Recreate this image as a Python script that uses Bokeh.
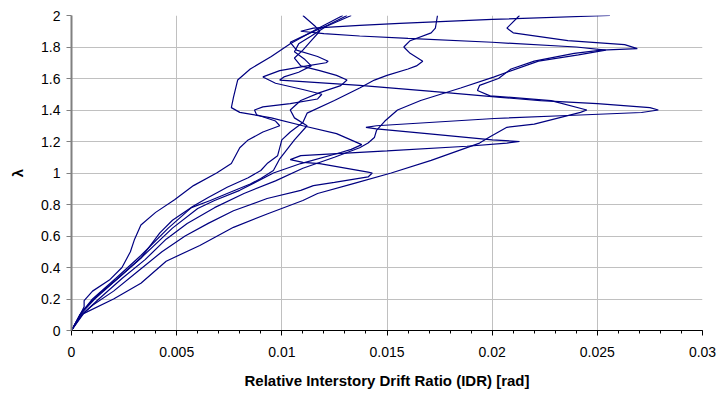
from bokeh.plotting import figure
from bokeh.models import FixedTicker, Range1d, NumeralTickFormatter
from bokeh.embed import file_html
from bokeh.resources import INLINE

# ---- data: IDR [rad] vs lambda for each record ----
c1_x = [0, 0.0003, 0.0006, 0.0006, 0.0010, 0.0018, 0.0024, 0.0028, 0.0030, 0.0033, 0.0040, 0.0049, 0.0058,
        0.0069, 0.0076, 0.0080, 0.0084, 0.0091, 0.0099, 0.0097, 0.0088, 0.0087, 0.0091, 0.0104, 0.0117,
        0.0119, 0.0110, 0.0097, 0.0091, 0.0099, 0.0112, 0.0121, 0.0122, 0.0117, 0.0107, 0.0104, 0.0112,
        0.0122, 0.0131]
c1_lam = [0, 0.07, 0.15, 0.19, 0.25, 0.32, 0.40, 0.50, 0.58, 0.67, 0.75, 0.83, 0.92,
          1.0, 1.06, 1.16, 1.21, 1.26, 1.30, 1.33, 1.37, 1.40, 1.42, 1.44, 1.47,
          1.50, 1.53, 1.57, 1.61, 1.65, 1.68, 1.70, 1.71, 1.74, 1.78, 1.83, 1.88,
          1.94, 2.0]

c2_x = [0, 0.00057, 0.0020, 0.0033, 0.0045, 0.0061, 0.0077, 0.0093, 0.0110, 0.0117, 0.0134, 0.0152, 0.0171,
        0.0194, 0.0199, 0.0207, 0.0220, 0.0242, 0.0245, 0.0228, 0.0199, 0.0193, 0.0194, 0.0203, 0.0209,
        0.0220, 0.0239, 0.0252, 0.0269, 0.0263, 0.0236, 0.0210, 0.0207, 0.0213]
c2_lam = [0, 0.107, 0.20, 0.30, 0.44, 0.54, 0.655, 0.74, 0.825, 0.87, 0.933, 1.0, 1.08,
          1.19, 1.23, 1.29, 1.31, 1.385, 1.40, 1.46, 1.49, 1.524, 1.556, 1.60, 1.66,
          1.71, 1.76, 1.78, 1.79, 1.815, 1.84, 1.89, 1.92, 2.0]

c3_x = [0, 0.0004, 0.0010, 0.0020, 0.0031, 0.0043, 0.0054, 0.0065, 0.0077, 0.0093, 0.0109, 0.0115, 0.0125,
        0.0141, 0.0143, 0.0141, 0.0118, 0.0110, 0.0104, 0.0109, 0.0150, 0.0188, 0.0207, 0.0213, 0.0200,
        0.0169, 0.0145, 0.0140, 0.0145, 0.0201, 0.0236, 0.0271, 0.0279, 0.0275, 0.0250, 0.0223, 0.0204,
        0.0170, 0.0137, 0.0110, 0.0099, 0.0101, 0.0108, 0.0114, 0.0111, 0.0106, 0.0108, 0.0114, 0.0121,
        0.0133]
c3_lam = [0, 0.09, 0.16, 0.25, 0.37, 0.50, 0.60, 0.68, 0.76, 0.838, 0.89, 0.92, 0.94,
          0.975, 1.0, 1.005, 1.06, 1.067, 1.085, 1.11, 1.14, 1.17, 1.19, 1.20, 1.21,
          1.25, 1.28, 1.29, 1.30, 1.346, 1.365, 1.384, 1.40, 1.415, 1.44, 1.46, 1.48,
          1.52, 1.556, 1.58, 1.59, 1.61, 1.64, 1.68, 1.72, 1.77, 1.82, 1.87, 1.93,
          2.0]

c4_x = [0, 0.0004, 0.0011, 0.0022, 0.0033, 0.0048, 0.0060, 0.0068, 0.0080, 0.0096, 0.0109, 0.0128, 0.0133,
        0.0138, 0.0126, 0.0110, 0.0095, 0.0080, 0.0076, 0.0077, 0.0079, 0.0085, 0.0095, 0.0104, 0.0116,
        0.0129]
c4_lam = [0, 0.10, 0.20, 0.33, 0.46, 0.65, 0.775, 0.825, 0.89, 1.0, 1.06, 1.13, 1.15,
          1.18, 1.25, 1.30, 1.35, 1.385, 1.415, 1.48, 1.59, 1.66, 1.74, 1.82, 1.91,
          2.0]

c5_x = [0, 0.0004, 0.0010, 0.0021, 0.0033, 0.0046, 0.0057, 0.0066, 0.0074, 0.0085, 0.0090, 0.0096, 0.0099,
        0.0106, 0.0112, 0.0106, 0.0104, 0.0109, 0.0118, 0.0128, 0.0131, 0.0126, 0.0118, 0.0109, 0.0106,
        0.0110, 0.0114, 0.0118, 0.0116, 0.0110]
c5_lam = [0, 0.10, 0.20, 0.33, 0.476, 0.65, 0.78, 0.825, 0.87, 0.93, 0.965, 1.016, 1.09,
          1.21, 1.30, 1.35, 1.40, 1.46, 1.51, 1.555, 1.59, 1.62, 1.65, 1.68, 1.73,
          1.78, 1.84, 1.90, 1.93, 2.0]

c6_x = [0, 0.0005, 0.0012, 0.0022, 0.0033, 0.0042, 0.0048, 0.0058, 0.0065, 0.0074, 0.0084, 0.0090, 0.0093,
        0.0098, 0.0100, 0.0104, 0.0110, 0.0112, 0.0125, 0.0137, 0.0144, 0.0150, 0.0160, 0.0164, 0.0167,
        0.0161, 0.0158, 0.0161, 0.0171, 0.0173, 0.0174]
c6_lam = [0, 0.12, 0.22, 0.33, 0.46, 0.62, 0.70, 0.79, 0.845, 0.91, 0.97, 1.016, 1.06,
          1.11, 1.21, 1.26, 1.32, 1.38, 1.46, 1.54, 1.59, 1.62, 1.66, 1.68, 1.71,
          1.76, 1.80, 1.84, 1.89, 1.92, 2.0]

c7_x = [0, 0.0005, 0.0013, 0.0024, 0.0035, 0.0045, 0.0055, 0.0068, 0.0082, 0.0097, 0.0110, 0.0125, 0.0137,
        0.0141, 0.0144, 0.0145, 0.0149, 0.0155, 0.0166, 0.0185, 0.0201, 0.0207, 0.0222, 0.0241, 0.0254,
        0.0240, 0.0200, 0.0160, 0.0137, 0.0120, 0.0109, 0.0115, 0.0137, 0.0156, 0.0200, 0.0256]
c7_lam = [0, 0.10, 0.20, 0.33, 0.45, 0.58, 0.68, 0.78, 0.87, 0.95, 1.03, 1.10, 1.16,
          1.19, 1.225, 1.27, 1.33, 1.40, 1.46, 1.54, 1.61, 1.64, 1.71, 1.75, 1.78,
          1.80, 1.83, 1.855, 1.87, 1.885, 1.90, 1.92, 1.937, 1.95, 1.975, 2.0]

curves = [(c1_x, c1_lam), (c2_x, c2_lam), (c3_x, c3_lam), (c4_x, c4_lam),
          (c5_x, c5_lam), (c6_x, c6_lam), (c7_x, c7_lam)]

x_ticks = [0, 0.005, 0.01, 0.015, 0.02, 0.025, 0.03]
x_minor = [i / 1000 for i in range(31)]
y_ticks = [0, 0.2, 0.4, 0.6, 0.8, 1.0, 1.2, 1.4, 1.6, 1.8, 2.0]

x_title = "Relative Interstory Drift Ratio (IDR) [rad]"
y_title = "λ"

p = figure(width=719, height=394, output_backend="svg", toolbar_location=None,
           x_range=Range1d(0, 0.03), y_range=Range1d(0, 2),
           min_border_left=71, min_border_right=17, min_border_top=15, min_border_bottom=64)
p.outline_line_color = None
p.background_fill_color = "white"
p.border_fill_color = "white"

p.xgrid.grid_line_color = "#c0c0c0"
p.ygrid.grid_line_color = "#c0c0c0"
p.xgrid.ticker = FixedTicker(ticks=x_ticks)
p.ygrid.ticker = FixedTicker(ticks=y_ticks)

font = "Liberation Sans"

xa = p.xaxis[0]
xa.ticker = FixedTicker(ticks=x_ticks, minor_ticks=x_minor)
xa.formatter = NumeralTickFormatter(format="0.[000]")
xa.axis_line_color = "black"
xa.major_tick_line_color = "black"
xa.minor_tick_line_color = "black"
xa.major_tick_in = 0
xa.major_tick_out = 5
xa.minor_tick_in = 0
xa.minor_tick_out = 3
xa.major_label_text_font = font
xa.major_label_text_font_size = "14px"
xa.major_label_text_color = "black"
xa.major_label_standoff = 11
xa.axis_label = x_title
xa.axis_label_text_font = font
xa.axis_label_text_font_style = "bold"
xa.axis_label_text_font_size = "15px"
xa.axis_label_text_color = "black"
xa.axis_label_standoff = 12

ya = p.yaxis[0]
ya.ticker = FixedTicker(ticks=y_ticks)
ya.formatter = NumeralTickFormatter(format="0.[0]")
ya.axis_line_color = "#808080"
ya.axis_line_width = 2
ya.major_tick_line_color = "#808080"
ya.minor_tick_line_color = None
ya.major_tick_in = 0
ya.major_tick_out = 5
ya.major_label_text_font = font
ya.major_label_text_font_size = "14px"
ya.major_label_text_color = "black"
ya.major_label_standoff = 6
ya.axis_label = y_title
ya.axis_label_text_font = font
ya.axis_label_text_font_style = "bold"
ya.axis_label_text_font_size = "15px"
ya.axis_label_text_color = "black"
ya.axis_label_standoff = 12

for cx, cl in curves:
    p.line(cx, cl, line_color="#000080", line_width=1.2)

open("out.html", "w").write(file_html(p, INLINE))
